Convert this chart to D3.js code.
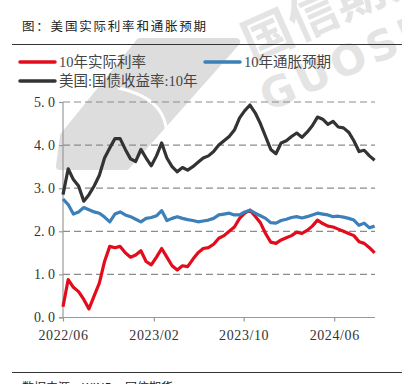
<!DOCTYPE html>
<html>
<head>
<meta charset="utf-8">
<script src="https://cdn.jsdelivr.net/npm/d3@7/dist/d3.min.js"></script>
<style>
  body { margin: 0; background: #fff; }
  svg { display: block; }
  text { font-family: "Liberation Serif", "Noto Sans CJK SC", serif; fill: #333; }
</style>
</head>
<body>
<div id="chart"></div>
<script>
// series, one value every two weeks from 2022/06/01
const startDate = new Date(2022, 5, 1);
const realRate = [0.25, 0.88, 0.70, 0.60, 0.42, 0.20, 0.50, 0.80, 1.30, 1.65,
  1.62, 1.65, 1.50, 1.40, 1.45, 1.55, 1.30, 1.22, 1.40, 1.60,
  1.40, 1.20, 1.10, 1.20, 1.18, 1.35, 1.50, 1.60, 1.62, 1.70,
  1.84, 1.90, 2.00, 2.10, 2.30, 2.42, 2.49, 2.35, 2.20, 1.95,
  1.75, 1.72, 1.80, 1.85, 1.90, 1.98, 1.95, 2.02, 2.12, 2.26,
  2.18, 2.12, 2.10, 2.05, 2.00, 1.95, 1.90, 1.76, 1.72, 1.62, 1.50];
const breakeven = [2.75, 2.62, 2.40, 2.45, 2.55, 2.50, 2.45, 2.42, 2.33, 2.22,
  2.40, 2.45, 2.38, 2.34, 2.28, 2.22, 2.30, 2.32, 2.36, 2.48,
  2.25, 2.30, 2.34, 2.30, 2.27, 2.25, 2.22, 2.24, 2.26, 2.30,
  2.38, 2.40, 2.42, 2.38, 2.38, 2.45, 2.49, 2.42, 2.36, 2.30,
  2.20, 2.19, 2.25, 2.28, 2.32, 2.34, 2.31, 2.34, 2.38, 2.42,
  2.40, 2.38, 2.34, 2.35, 2.33, 2.30, 2.26, 2.14, 2.19, 2.08, 2.12];
const yield10 = [2.85, 3.45, 3.20, 3.05, 2.70, 2.85, 3.05, 3.30, 3.70, 3.93,
  4.15, 4.15, 3.90, 3.68, 3.62, 3.90, 3.70, 3.52, 3.75, 4.05,
  3.70, 3.50, 3.38, 3.48, 3.42, 3.50, 3.60, 3.70, 3.75, 3.85,
  4.00, 4.10, 4.20, 4.35, 4.63, 4.80, 4.93, 4.75, 4.50, 4.20,
  3.90, 3.80, 4.05, 4.10, 4.20, 4.28, 4.18, 4.30, 4.45, 4.65,
  4.60, 4.48, 4.55, 4.42, 4.40, 4.30, 4.10, 3.85, 3.88, 3.75, 3.65];
const yTicks = [0, 1, 2, 3, 4, 5];
const xTickLabels = ["2022/06", "2023/02", "2023/10", "2024/06"];
const seriesNames = ["10年实际利率", "10年通胀预期", "美国:国债收益率:10年"];
const seriesColors = ["#e20c1c", "#3d7fb9", "#333333"];

const W = 402, H = 384;
const plotL = 63, plotR = 375, plotT = 102, plotB = 317.5;

const svg = d3.select("#chart").append("svg")
  .attr("width", W).attr("height", H);

// watermark
const wm = svg.append("g");
wm.append("path")
  .attr("d", "M60,166 L126,166 L236,42 L140,42 L64,136 Z")
  .attr("fill", "#dddddd")
  .attr("stroke", "#dddddd")
  .attr("stroke-width", 8)
  .attr("stroke-linejoin", "round");
wm.append("path")
  .attr("d", "M118,88 C150,95 172,110 166,150")
  .attr("fill", "none")
  .attr("stroke", "#fff")
  .attr("stroke-width", 3);
wm.append("text")
  .attr("transform", "translate(252,62) rotate(-24)")
  .style("font-family", "Noto Sans CJK SC")
  .style("font-weight", "bold")
  .style("font-size", "50px")
  .style("fill", "#e4e4e4")
  .text("国信期货");
wm.append("text")
  .attr("transform", "translate(268,112) rotate(-24)")
  .style("font-family", "DejaVu Sans")
  .style("font-weight", "bold")
  .style("font-size", "42px")
  .style("fill", "#e4e4e4")
  .style("letter-spacing", "4px")
  .text("GUOSEN");

// title and rules
svg.append("text")
  .attr("x", 22).attr("y", 31)
  .style("font-family", "Noto Sans CJK SC")
  .style("font-size", "12.5px")
  .style("letter-spacing", "1.8px")
  .style("fill", "#222")
  .text("图：美国实际利率和通胀预期");
svg.append("line")
  .attr("x1", 12).attr("x2", W).attr("y1", 44.5).attr("y2", 44.5)
  .attr("stroke", "#333").attr("stroke-width", 1);
svg.append("line")
  .attr("x1", 12).attr("x2", W).attr("y1", 372.5).attr("y2", 372.5)
  .attr("stroke", "#333").attr("stroke-width", 1);
svg.append("text")
  .attr("x", 22).attr("y", 392)
  .style("font-family", "Noto Sans CJK SC")
  .style("font-size", "12px")
  .style("fill", "#222")
  .text("数据来源：WIND，国信期货");

// legend
const legendPos = [[20, 62], [205, 62], [20, 81]];
seriesNames.forEach((name, i) => {
  const g = svg.append("g").attr("transform", "translate(" + legendPos[i][0] + "," + legendPos[i][1] + ")");
  g.append("line")
    .attr("x1", 0).attr("x2", 35)
    .attr("stroke", seriesColors[i]).attr("stroke-width", 3.5)
    .attr("stroke-linecap", "round");
  g.append("text")
    .attr("x", 39).attr("y", 5)
    .style("font-size", "14.5px")
    .style("fill", "#444")
    .text(name);
});

// scales
const dates = realRate.map((d, i) => d3.timeDay.offset(startDate, i * 14));
const x = d3.scaleTime()
  .domain([startDate, new Date(2024, 8, 19)])
  .range([plotL, plotR]);
const y = d3.scaleLinear().domain([0, 5]).range([plotB, plotT]);

// grid
svg.append("g")
  .selectAll("line")
  .data(yTicks.filter(d => d > 0))
  .enter().append("line")
  .attr("x1", plotL).attr("x2", plotR)
  .attr("y1", d => y(d)).attr("y2", d => y(d))
  .attr("stroke", "#8c8c8c")
  .attr("stroke-width", 1.2)
  .attr("stroke-dasharray", "7,4");

// axes
const xTickDates = xTickLabels.map(s => d3.timeParse("%Y/%m")(s));
const xAxis = d3.axisBottom(x)
  .tickValues(xTickDates)
  .tickSize(4)
  .tickFormat(d3.timeFormat("%Y/%m"));
const gx = svg.append("g")
  .attr("transform", "translate(0," + plotB + ")")
  .call(xAxis);
gx.select(".domain").attr("d", "M" + (plotL - 4) + ",0H" + plotR).attr("stroke", "#999").attr("stroke-width", 1.2);
gx.selectAll(".tick line").attr("stroke", "#999").attr("stroke-width", 1.2);
gx.selectAll(".tick text")
  .attr("dy", 0).attr("y", 22)
  .style("font-size", "14px")
  .style("letter-spacing", "0.6px")
  .style("fill", "#333");

const yAxis = d3.axisLeft(y)
  .tickValues(yTicks)
  .tickSize(4)
  .tickFormat(d => d.toFixed(0) + ". 0");
const gy = svg.append("g")
  .attr("transform", "translate(" + plotL + ",0)")
  .call(yAxis);
gy.select(".domain").attr("d", "M0," + plotT + "V" + plotB).attr("stroke", "#999").attr("stroke-width", 1.2);
gy.selectAll(".tick line").attr("stroke", "#999").attr("stroke-width", 1.2);
gy.selectAll(".tick text")
  .attr("x", -8)
  .style("font-size", "14px")
  .style("fill", "#333");

// lines
const line = d3.line()
  .x((d, i) => x(dates[i]))
  .y(d => y(d));
[realRate, breakeven, yield10].forEach((vals, i) => {
  svg.append("path")
    .datum(vals)
    .attr("fill", "none")
    .attr("stroke", seriesColors[i])
    .attr("stroke-width", 3.2)
    .attr("stroke-linejoin", "round")
    .attr("d", line);
});
</script>
</body>
</html>
